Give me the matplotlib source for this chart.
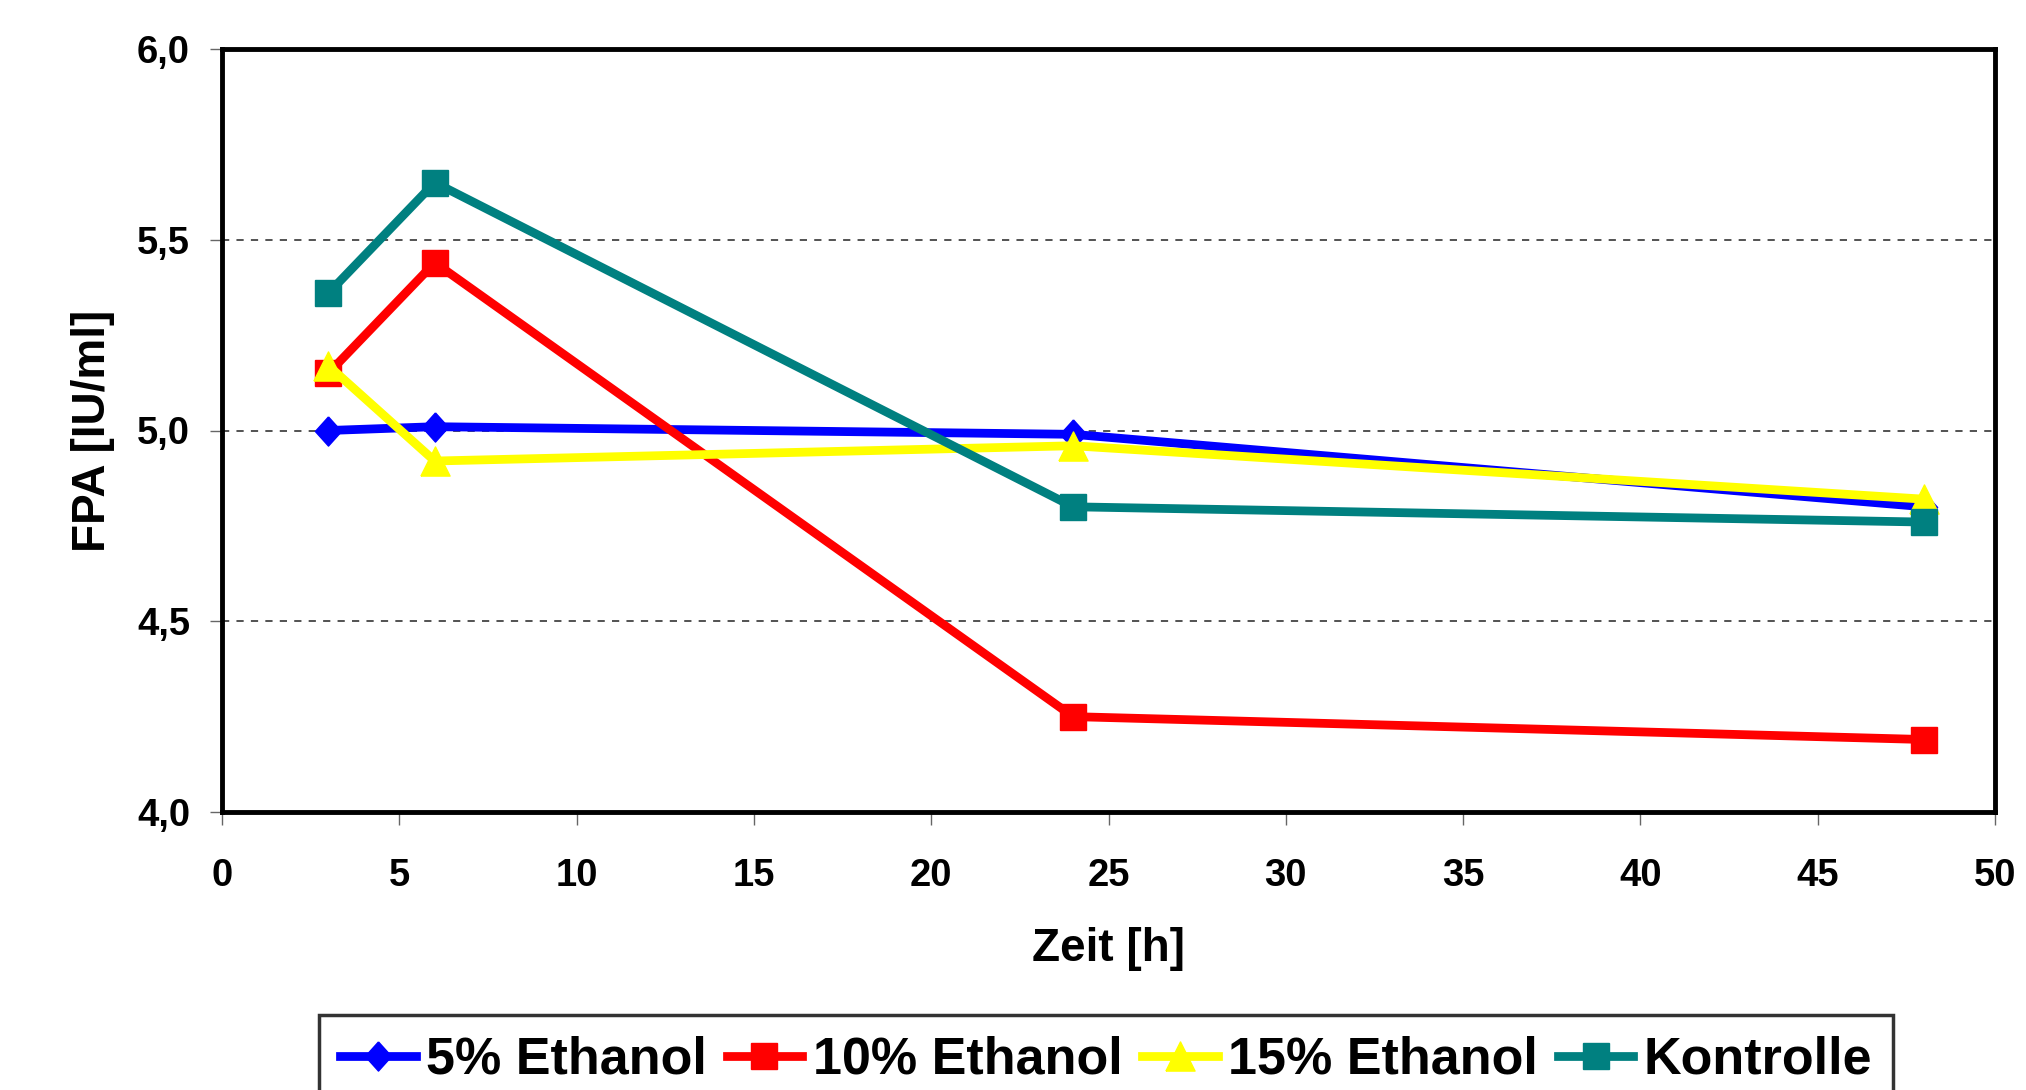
import matplotlib
matplotlib.use('Agg')
import matplotlib.pyplot as plt
from matplotlib.ticker import FuncFormatter

plt.rcParams['font.family'] = ['Liberation Sans', 'DejaVu Sans']
plt.rcParams['font.weight'] = 'bold'

# sampling times [h] and FPA activity [IU/ml]
zeit = [3, 6, 24, 48]
ethanol_5 = [5.00, 5.01, 4.99, 4.80]
ethanol_10 = [5.15, 5.44, 4.25, 4.19]
ethanol_15 = [5.17, 4.92, 4.96, 4.82]
kontrolle = [5.36, 5.65, 4.80, 4.76]

labels = ['5% Ethanol', '10% Ethanol', '15% Ethanol', 'Kontrolle']

# diamond / triangle shaped like the spreadsheet markers
diamond = [(0, 1), (0.9, 0), (0, -1), (-0.9, 0), (0, 1)]
triangle = [(-1, -1), (1, -1), (0, 1), (-1, -1)]

fig = plt.figure(figsize=(20.26, 10.9), dpi=100)
ax = fig.add_axes([222/2026, 1 - 812/1090, (1995-222)/2026, (812-49)/1090])

lw = 6.3
ax.plot(zeit, ethanol_5, color='#0000FF', lw=lw, marker=diamond, ms=21, label=labels[0])
ax.plot(zeit, ethanol_10, color='#FF0000', lw=lw, marker='s', ms=19, label=labels[1])
ax.plot(zeit, ethanol_15, color='#FFFF00', lw=lw, marker=triangle, ms=21, label=labels[2])
ax.plot(zeit, kontrolle, color='#008080', lw=lw, marker='s', ms=19, label=labels[3])

ax.set_xlim(0, 50)
ax.set_ylim(4.0, 6.0)
ax.set_xticks(range(0, 51, 5))
ax.set_yticks([4.0, 4.5, 5.0, 5.5, 6.0])
ax.yaxis.set_major_formatter(FuncFormatter(lambda v, p: ('%.1f' % v).replace('.', ',')))

for y in [4.5, 5.0, 5.5]:
    ax.axhline(y, color='#444444', lw=1.3, ls=(0, (4, 4)), zorder=0)

for s in ax.spines.values():
    s.set_linewidth(3.5)
    s.set_color('black')

ax.tick_params(direction='out', length=9, width=1, color='#666666', labelsize=27.5)
ax.tick_params(axis='x', pad=24)
ax.tick_params(axis='y', pad=14)
for t in ax.get_xticklabels() + ax.get_yticklabels():
    t.set_fontweight('bold')

ax.set_xlabel('Zeit [h]', fontsize=33, fontweight='bold', labelpad=24)
ax.set_ylabel('FPA [IU/ml]', fontsize=33, fontweight='bold', labelpad=16)

leg = fig.legend(loc='upper center', bbox_to_anchor=(0.546, 1 - 1015/1090), ncol=4,
                 frameon=True, fancybox=False, borderaxespad=0,
                 handlelength=1.45, handletextpad=0.2, columnspacing=0.38,
                 borderpad=0.4, prop={'weight': 'bold', 'size': 37.5})
leg.get_frame().set_edgecolor('black')
leg.get_frame().set_linewidth(2.5)

fig.savefig('out.png', dpi=100)
